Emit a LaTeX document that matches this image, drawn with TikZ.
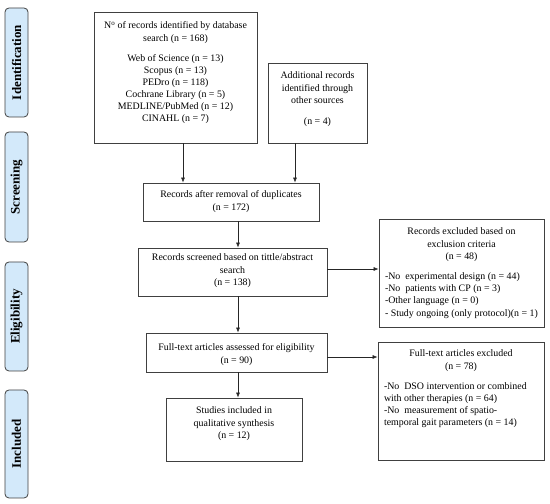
\documentclass[tikz,border=0pt]{standalone}
\usepackage{fontspec}
\setmainfont{Liberation Serif}
\usetikzlibrary{arrows.meta}
\definecolor{sidefill}{HTML}{D3E9FA}
\definecolor{linegray}{HTML}{404040}
\newcommand{\bxt}[4]{\parbox[c][#1][t]{#2}{\vspace*{#3}#4}}
\tikzset{
  box/.style={draw=linegray, line width=0.8pt, rectangle, inner xsep=6pt, inner ysep=0pt, font=\fontsize{9.9}{12.2}\selectfont},
  side/.style={draw=linegray, line width=0.8pt, fill=sidefill, rounded corners=4pt, minimum width=23pt, inner sep=0pt, font=\fontsize{13}{15}\selectfont\bfseries},
  arr/.style={-{Latex[length=5pt,width=4pt]}, line width=0.6pt, draw=black!85}
}
\begin{document}
\begin{tikzpicture}[x=1pt,y=1pt]
\useasboundingbox (0,0) rectangle (550,504);
% side labels
\node[side, minimum height=109pt] (sid) at (16.5,441.5) {\rotatebox{90}{Identification}};
\node[side, minimum height=110pt] (sscr) at (16.5,317) {\rotatebox{90}{Screening}};
\node[side, minimum height=109pt] (selg) at (16.5,187.5) {\rotatebox{90}{Eligibility}};
\node[side, minimum height=108pt] (sinc) at (16.5,60) {\rotatebox{90}{Included}};
% boxes
\node[box] (b1) at (175.5,426.5)
  {\bxt{131pt}{151pt}{10pt}{\centering N\textsuperscript{o} of records identified by database\\ search (n = 168)\\[8.5pt]
   \fontsize{9.9}{11.9}\selectfont Web of Science (n = 13)\\ Scopus (n = 13)\\ PEDro (n = 118)\\ Cochrane Library (n = 5)\\ MEDLINE/PubMed (n = 12)\\ CINAHL (n = 7)\par}};
\node[box] (b2) at (317.5,401)
  {\bxt{80pt}{87pt}{9pt}{\centering Additional records\\ identified through\\ other sources\\[9pt] (n = 4)\par}};
\node[box] (b3) at (231,302)
  {\bxt{38pt}{164pt}{8pt}{\centering Records after removal of duplicates\\ (n = 172)\par}};
\node[box] (b4) at (232.5,232)
  {\bxt{48pt}{177pt}{6pt}{\centering Records screened based on tittle/abstract\\ search\\ (n = 138)\par}};
\node[box] (b5) at (461.5,231)
  {\bxt{108pt}{153pt}{9pt}{{\centering Records excluded based on\\ exclusion criteria\\ (n = 48)\par}\vspace{8pt}
   {\raggedright -No\ \ experimental design (n = 44)\\ -No\ \ patients with CP (n = 3)\\ -Other language (n = 0)\\ - Study ongoing (only protocol)(n = 1)\par}}};
\node[box] (b6) at (236.5,151.5)
  {\bxt{39pt}{169pt}{11pt}{\centering Full-text articles assessed for eligibility\\ (n = 90)\par}};
\node[box] (b7) at (461,103)
  {\bxt{118pt}{154pt}{8pt}{{\centering Full-text articles excluded\\ (n = 78)\par}\vspace{8pt}
   {\raggedright -No\ \ DSO intervention or combined\\ with other therapies (n = 64)\\ -No\ \ measurement of spatio-\\ temporal gait parameters (n = 14)\par}}};
\node[box] (b8) at (234,74.5)
  {\bxt{63pt}{124pt}{9pt}{\centering Studies included in\\ qualitative synthesis\\ (n = 12)\par}};
% arrows
\draw[arr] ([xshift=7.5pt]b1.south) -- ([xshift=7.5pt]b1.south |- b3.north);
\draw[arr] ([xshift=-22.5pt]b2.south) -- ([xshift=-22.5pt]b2.south |- b3.north);
\draw[arr] ([xshift=7pt]b3.south) -- ([xshift=7pt]b3.south |- b4.north);
\draw[arr] ([yshift=3pt]b4.east) -- ([yshift=3pt]b4.east -| b5.west);
\draw[arr] ([xshift=5.5pt]b4.south) -- ([xshift=5.5pt]b4.south |- b6.north);
\draw[arr] ([yshift=-4.5pt]b6.east) -- ([yshift=-4.5pt]b6.east -| b7.west);
\draw[arr] ([xshift=1.5pt]b6.south) -- ([xshift=1.5pt]b6.south |- b8.north);
\end{tikzpicture}
\end{document}
